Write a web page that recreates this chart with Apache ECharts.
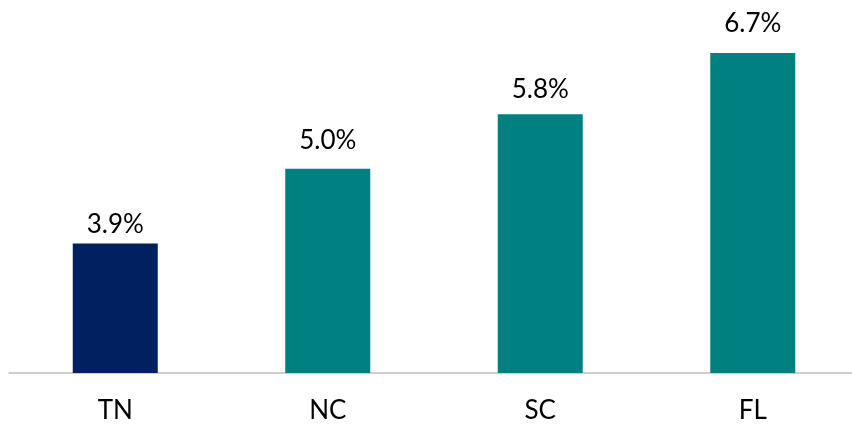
<!DOCTYPE html>
<html><head><meta charset="utf-8">
<script src="https://cdn.jsdelivr.net/npm/echarts@6/dist/echarts.min.js"></script>
<style>html,body{margin:0;padding:0;background:#fff;overflow:hidden;width:852px;height:424px}#c{width:859px;height:424px}</style>
</head><body><div id="c"></div>
<script>
// data
const categories = ['TN', 'NC', 'SC', 'FL'];
const values = [3.9, 5.0, 5.8, 6.7];

// styling
const barColors = ['#002060', '#008080', '#008080', '#008080'];
const labelDistances = [6.5, 15.5, 12, 16.5];

const chart = echarts.init(document.getElementById('c'), null, {renderer: 'canvas'});
chart.setOption({
  animation: false,
  grid: {left: 9, right: 0, top: 32.5, bottom: 50, containLabel: false},
  xAxis: {
    type: 'category', data: categories,
    axisLine: {show: true, lineStyle: {color: '#bfbfbf', width: 1.5}},
    axisTick: {show: false},
    axisLabel: {color: '#000', fontFamily: 'Lato', fontSize: 26, margin: 25}
  },
  yAxis: {type: 'value', min: 2, max: 7, show: false, splitLine: {show: false}},
  series: [{
    type: 'bar', barWidth: 85,
    data: values.map((v, i) => ({value: v, itemStyle: {color: barColors[i]}, label: {distance: labelDistances[i]}})),
    label: {show: true, position: 'top', color: '#000', fontFamily: 'Lato', fontSize: 26,
      formatter: p => p.value.toFixed(1) + '%'}
  }]
});
</script></body></html>
